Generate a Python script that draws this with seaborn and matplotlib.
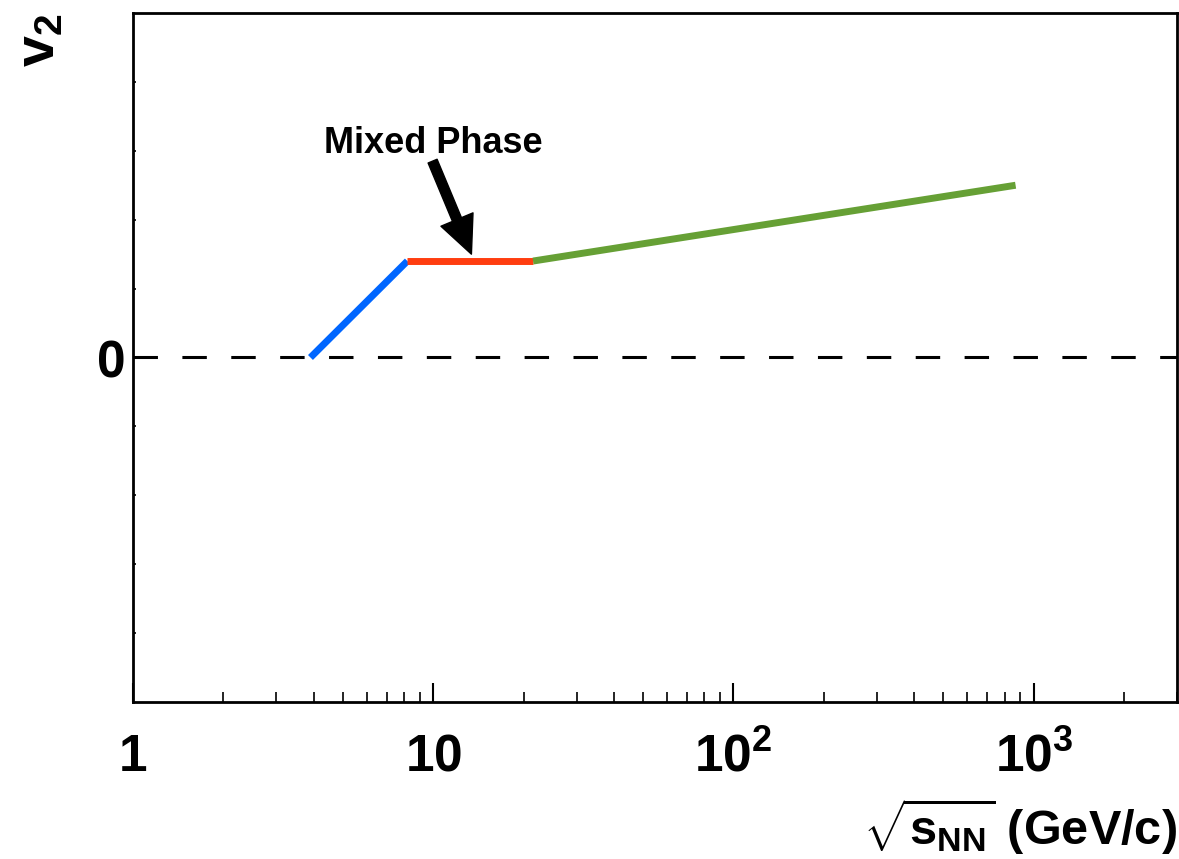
import numpy as np
import pandas as pd
import matplotlib
matplotlib.use("Agg")
import matplotlib.pyplot as plt
import seaborn as sns
from matplotlib.ticker import FixedLocator, LogLocator, NullFormatter

# ---- data ----
phase = ["hadronic", "hadronic", "mixed", "mixed", "qgp", "qgp"]
sqrt_s = [3.9, 8.2, 8.2, 21.5, 21.5, 870.0]
v2 = [0.0, 0.28, 0.28, 0.28, 0.28, 0.50]
palette = {"hadronic": "#0066FF", "mixed": "#FF3D10", "qgp": "#66A035"}
x_ticks = [1, 10, 100, 1000]
x_tick_labels = [r"$\mathbf{1}$", r"$\mathbf{10}$", r"$\mathbf{10^{2}}$", r"$\mathbf{10^{3}}$"]
y_minor = [-0.8, -0.6, -0.4, -0.2, 0.2, 0.4, 0.6, 0.8]

df = pd.DataFrame({"phase": phase, "sqrt_s": sqrt_s, "v2": v2})

sns.set_theme(style="white")
plt.rcParams["font.family"] = ["Liberation Sans", "DejaVu Sans"]
plt.rcParams["mathtext.fontset"] = "custom"
plt.rcParams["mathtext.rm"] = "Liberation Sans"
plt.rcParams["mathtext.bf"] = "Liberation Sans:bold"
plt.rcParams["mathtext.it"] = "Liberation Sans:italic"
for k in ["text.color", "axes.labelcolor", "xtick.color", "ytick.color", "axes.edgecolor"]:
    plt.rcParams[k] = "black"

fig = plt.figure(figsize=(11.79, 8.59), dpi=100)
ax = fig.add_axes([133 / 1179, 1 - 702 / 859, (1177 - 133) / 1179, (702 - 13) / 859])
ax.set_xscale("log")

sns.lineplot(data=df, x="sqrt_s", y="v2", hue="phase", units="phase", estimator=None,
             sort=False, palette=palette, linewidth=5.0, legend=False, ax=ax)
for l in ax.lines:
    l.set_solid_capstyle("butt")

ax.axhline(0, color="black", linewidth=2.2, linestyle=(0, (8, 8)), zorder=1)

ax.set_xlim(1, 3000)
ax.set_ylim(-1, 1)

ax.xaxis.set_major_locator(FixedLocator(x_ticks))
ax.set_xticklabels(x_tick_labels)
ax.xaxis.set_minor_locator(LogLocator(base=10, subs=np.arange(2, 10)))
ax.xaxis.set_minor_formatter(NullFormatter())
ax.tick_params(axis="x", which="major", direction="in", length=14, width=1.5,
               labelsize=37, pad=22, bottom=True, top=False)
ax.tick_params(axis="x", which="minor", direction="in", length=7, width=1.2,
               bottom=True, top=False)

ax.yaxis.set_major_locator(FixedLocator([0]))
ax.set_yticklabels([r"$\mathbf{0}$"])
ax.yaxis.set_minor_locator(FixedLocator(y_minor))
ax.tick_params(axis="y", which="major", direction="in", length=2, width=1.2,
               labelsize=37, pad=6, left=True, right=False)
ax.tick_params(axis="y", which="minor", direction="in", length=2.5, width=1.2,
               left=True, right=False)

for s in ax.spines.values():
    s.set_visible(True)
    s.set_color("black")
    s.set_linewidth(2.0)

ax.set_xlabel("")
ax.set_ylabel("")

# annotation
ax.annotate("", xy=(13.4, 0.30), xytext=(9.95, 0.57),
            arrowprops=dict(width=7, headwidth=25, headlength=27,
                            facecolor="black", edgecolor="black", shrink=0.0))
ax.text(10.0, 0.62, "Mixed Phase", fontsize=26, fontweight="bold",
        ha="center", va="center")

# axis titles
fig.text(1177 / 1179, 1 - 845 / 859, r"$\sqrt{\mathbf{s}_{\mathbf{NN}}}$" + r" $\mathbf{(GeV/c)}$",
         fontsize=35, ha="right", va="baseline")
fig.text(40 / 1179, 1 - 14 / 859, r"$\mathbf{v_{2}}$", fontsize=40, rotation=90,
         ha="center", va="top")

fig.savefig("out.png", dpi=100)
